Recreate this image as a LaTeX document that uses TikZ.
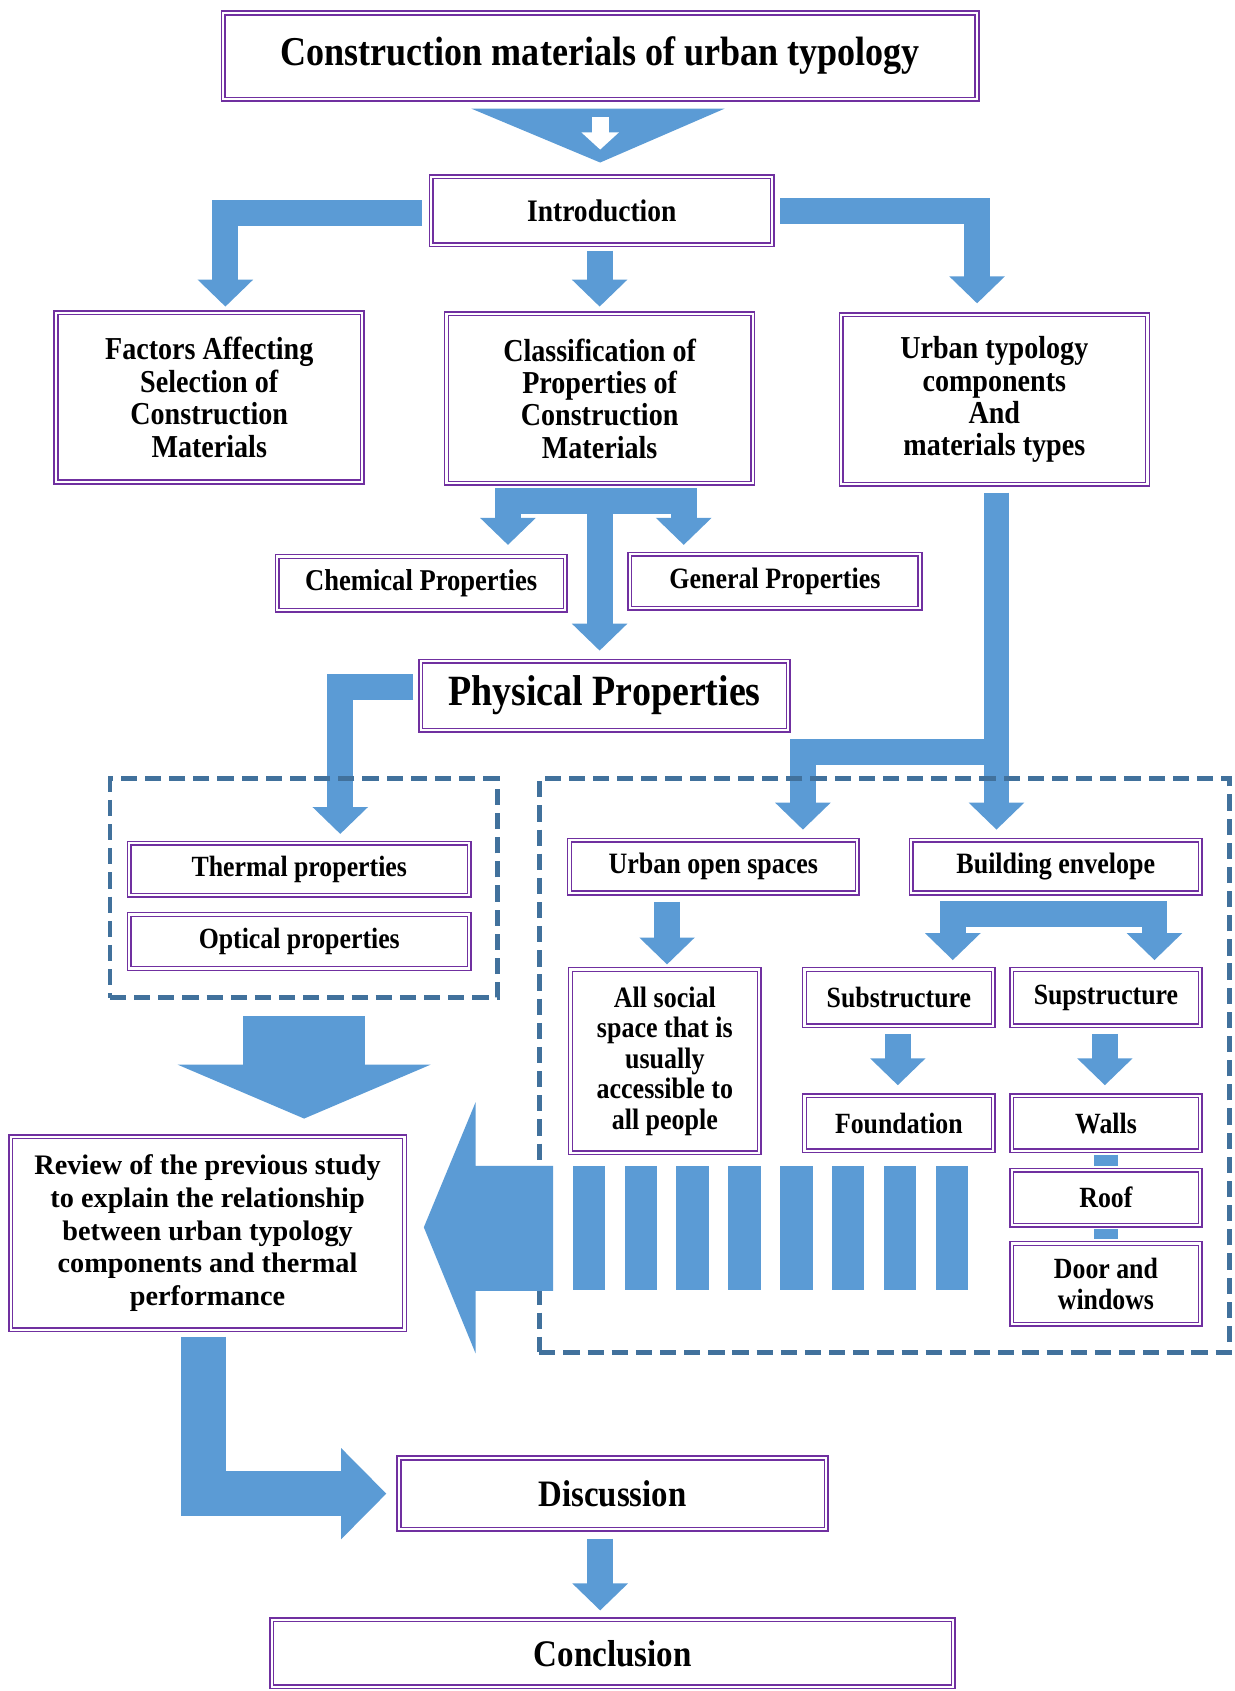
\documentclass[tikz,border=0pt]{standalone}
\usepackage{fontspec}
\setmainfont{Liberation Serif}
\newfontfamily\condfont{Liberation Serif}[FakeStretch=0.88]
\usetikzlibrary{arrows.meta,calc,fit}

\definecolor{boxpurple}{HTML}{7030A0}
\definecolor{flowblue}{HTML}{5B9BD5}
\definecolor{groupblue}{HTML}{41719C}

\tikzset{
  box/.style={draw=boxpurple, line width=0.7pt, double=white, double distance=1pt,
    fill=white, align=center, inner sep=2pt},
  fsize/.style 2 args={font=\condfont\bfseries\fontsize{#1}{#2}\selectfont},
  flow/.style={draw=flowblue, line width=12pt, -{Triangle[length=12.5pt,width=25pt]}},
  group/.style={draw=groupblue, line width=2.2pt, dash pattern=on 7.5pt off 3.7pt,
    inner sep=0pt},
}

\begin{document}
\begin{tikzpicture}[x=0.5pt, y=-0.5pt]
  \useasboundingbox (0,0) rectangle (1145,1568);

  % top of the chart
  \node[box, fsize={19}{21}, minimum width=349.5pt, minimum height=40pt] (title) at (556.5,52)
    {Construction materials of urban typology};
  \node[box, fsize={14.5}{16}, minimum width=158pt, minimum height=31.5pt] (intro) at (558,195.5)
    {Introduction};

  % three main branches
  \node[box, fsize={14.8}{15}, minimum width=142pt, minimum height=78.5pt] (factors) at (194,368.5)
    {Factors Affecting\\Selection of\\Construction\\Materials};
  \node[box, fsize={14.8}{15}, minimum width=142pt, minimum height=78.5pt] (classif) at (556,369.5)
    {Classification of\\Properties of\\Construction\\Materials};
  \node[box, fsize={14.8}{15}, minimum width=142pt, minimum height=78.5pt] (urbtyp) at (922,370.5)
    {Urban typology\\components\\And\\materials types};

  % properties
  \node[box, fsize={14}{15}, minimum width=133.5pt, minimum height=25pt] (chemical) at (390.5,541)
    {Chemical Properties};
  \node[box, fsize={13.7}{15}, minimum width=134.5pt, minimum height=25pt] (general) at (718.5,539)
    {General Properties};
  \node[box, fsize={20}{22}, minimum width=170.5pt, minimum height=32pt] (physical) at (560.5,645)
    {Physical Properties};
  \node[box, fsize={13.6}{15}, minimum width=157.5pt, minimum height=24pt] (thermal) at (277.5,806)
    {Thermal properties};
  \node[box, fsize={13.6}{15}, minimum width=157.5pt, minimum height=25pt] (optical) at (277.5,873)
    {Optical properties};

  % urban typology components
  \node[box, fsize={13.7}{15}, minimum width=133.5pt, minimum height=24.5pt] (openspace) at (661.5,803.5)
    {Urban open spaces};
  \node[box, fsize={13.7}{15}, minimum width=134pt, minimum height=24.5pt] (envelope) at (979,803.5)
    {Building envelope};
  \node[box, fsize={13.7}{14.2}, minimum width=87.5pt, minimum height=85pt] (social) at (616.5,984)
    {All social\\space that is\\usually\\accessible to\\all people};
  \node[box, fsize={13.6}{15}, minimum width=87.5pt, minimum height=26pt] (substr) at (833.5,925)
    {Substructure};
  \node[box, fsize={13.6}{15}, minimum width=87.5pt, minimum height=26pt] (supstr) at (1025.5,925)
    {Supstructure};
  \node[box, fsize={13.6}{15}, minimum width=87.5pt, minimum height=25.5pt] (foundation) at (833.5,1041.5)
    {Foundation};
  \node[box, fsize={13.6}{15}, minimum width=87.5pt, minimum height=25.5pt] (walls) at (1025.5,1041.5)
    {Walls};
  \node[box, fsize={13.6}{15}, minimum width=87.5pt, minimum height=25.5pt] (roof) at (1025.5,1110.5)
    {Roof};
  \node[box, fsize={13.6}{14}, minimum width=87.5pt, minimum height=37.5pt] (door) at (1025.5,1190.5)
    {Door and\\windows};

  % review and the end of the chart
  \node[box, font=\bfseries\fontsize{13.1}{15.2}\selectfont, minimum width=182.5pt, minimum height=89.5pt] (review) at (192.5,1143.5)
    {Review of the previous study\\to explain the relationship\\between urban typology\\components and thermal\\performance};
  \node[box, fsize={17.3}{19}, minimum width=198pt, minimum height=33pt] (discussion) at (568,1385)
    {Discussion};
  \node[box, fsize={17.4}{19}, minimum width=316pt, minimum height=31pt] (conclusion) at (568,1533)
    {Conclusion};

  % wide arrow under the title
  \fill[flowblue] ($(title.south)+(-119.5,8)$) -- ($(title.south)+(115.5,8)$)
    -- ($(title.south)+(0,58)$) -- cycle;
  \draw[white, line width=8pt, -{Triangle[length=8pt,width=17pt]}]
    ($(title.south)+(0,16)$) -- ($(title.south)+(0,46)$);

  % introduction to the three branches
  \draw[flow] ($(intro.west)+(-8,2)$) -| ($(factors.north)+(15,-5)$);
  \draw[flow] ($(intro.south -| classif.north)+(0,5)$) -- ($(classif.north)+(0,-6)$);
  \draw[flow] ($(intro.east)+(7,0)$) -| ($(urbtyp.north)+(-16,-10)$);

  % classification split
  \draw[flow] ($(classif.south)+(0,16)$) -| ($(chemical.north)+(80.5,-10)$);
  \draw[flow] ($(classif.south)+(0,16)$) -| ($(general.north)+(-84.5,-8)$);
  \draw[flow] ($(classif.south)+(0,6)$) -- ($(classif.south |- physical.north)+(0,-9)$);

  % physical properties to the thermal group
  \draw[flow] ($(physical.west)+(-6,-8)$) -| ($(thermal.north)+(38,-8)$);

  % urban typology to its components
  \draw[flow] ($(urbtyp.south)+(2,7)$) -- ($(urbtyp.south |- envelope.north)+(2,-9)$);
  \draw[flow] ($(urbtyp.south)+(2,248)$) -| ($(openspace.north)+(83,-9)$);
  \draw[flow] ($(social.north)+(2,-62)$) -- ($(social.north)+(2,-4)$);
  \draw[flow] ($(envelope.south)+(0,19)$) -| ($(substr.north)+(50,-8)$);
  \draw[flow] ($(envelope.south)+(0,19)$) -| ($(supstr.north)+(45,-8)$);
  \draw[flow] ($(substr.south)+(-1,7)$) -- ($(foundation.north)+(-1,-9)$);
  \draw[flow] ($(supstr.south)+(-1,7)$) -- ($(walls.north)+(-1,-9)$);

  % bars joining the superstructure parts
  \draw[flowblue, line width=11pt] ($(walls.south)+(0,3)$) -- ($(roof.north)+(0,-3)$);
  \draw[flowblue, line width=11pt] ($(roof.south)+(0,3)$) -- ($(door.north)+(0,-3)$);

  % dashed groups
  \node[group, fit={(102,722) (461,925)}] (thermgrp) {};
  \node[group, fit={(500,722) (1140,1254)}] (urbgrp) {};

  % big arrow down to the review
  \draw[flowblue, line width=56.5pt, -{Triangle[length=25pt,width=116.5pt]}]
    ($(thermgrp.south)+(0.5,15)$) -- ($(thermgrp.south)+(0.5,110)$);

  % striped arrow from the components to the review
  \fill[flowblue] (513,1081) -- (441,1081) -- (441,1022) -- (393,1138)
    -- (441,1255) -- (441,1197) -- (513,1197) -- cycle;
  \foreach \i in {0,...,7}
    \fill[flowblue] ({531+48.1*\i},1081) rectangle ++(30,115);

  % review to discussion, discussion to conclusion
  \draw[flowblue, line width=21pt, -{Triangle[length=21pt,width=41pt]}]
    ($(review.south)+(-3.5,6)$) |- ($(discussion.west)+(-11,0)$);
  \draw[flow] ($(discussion.south)+(-11.5,8)$) -- ($(discussion.south |- conclusion.north)+(-11.5,-8)$);
\end{tikzpicture}
\end{document}
